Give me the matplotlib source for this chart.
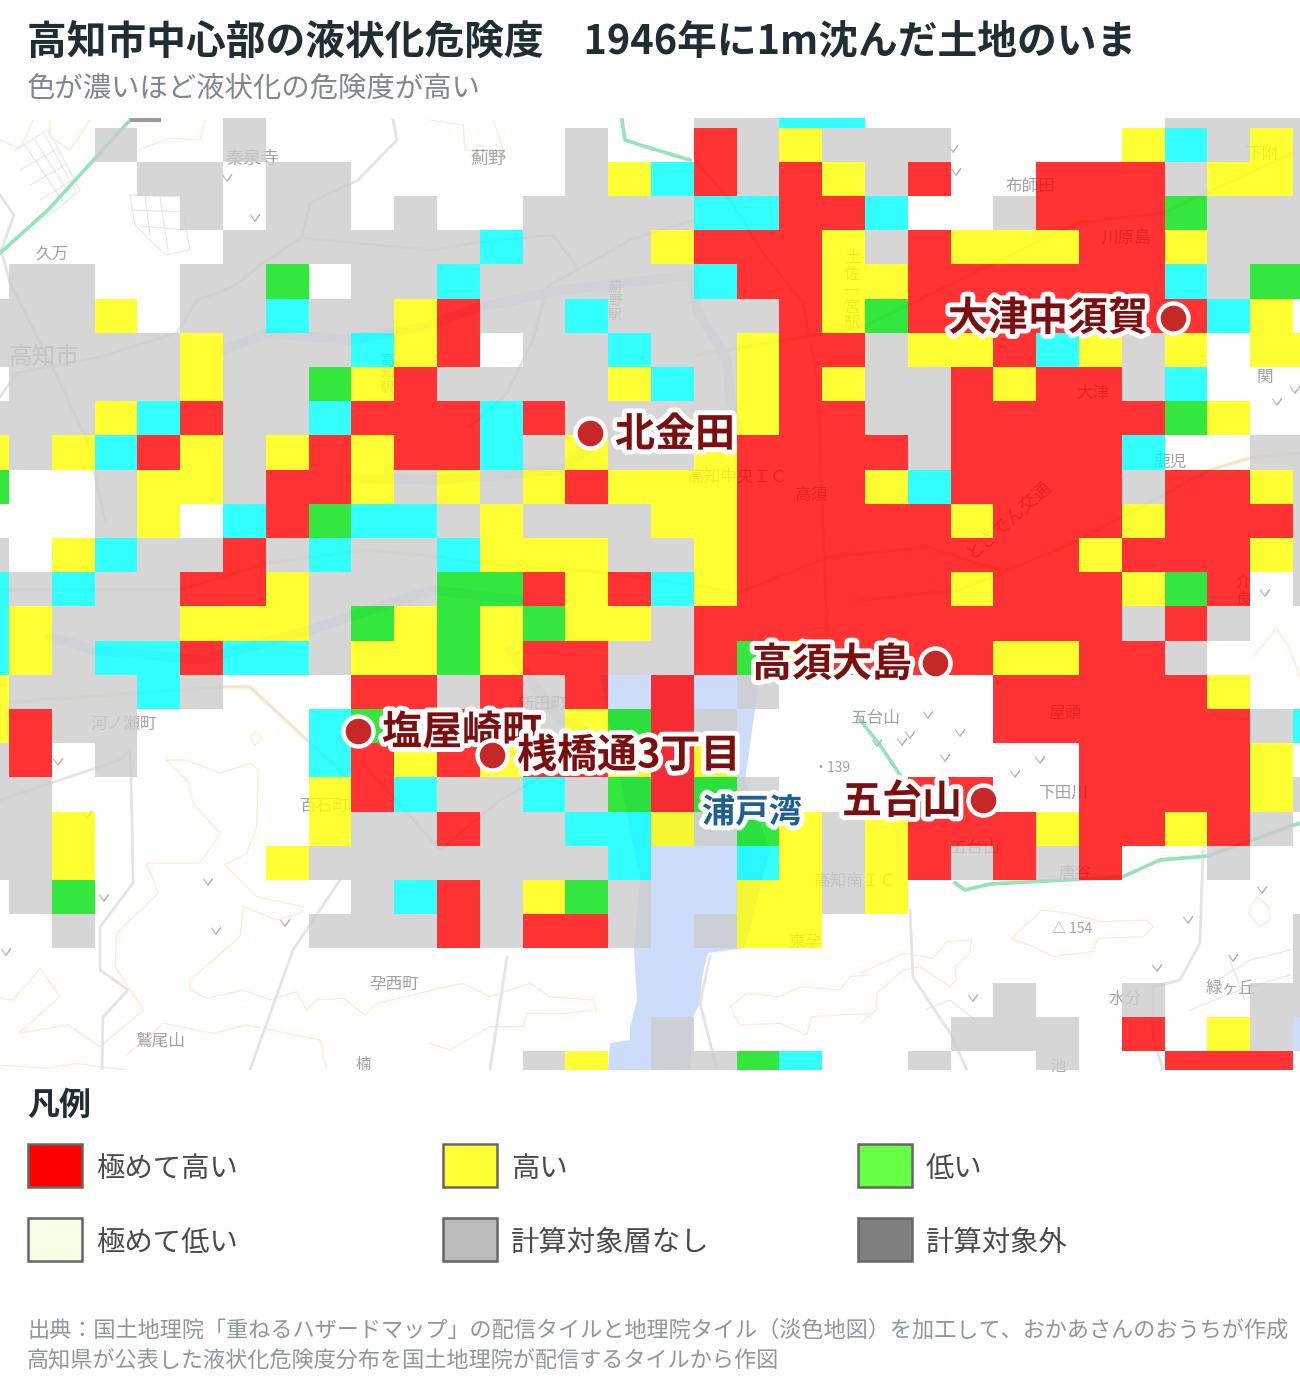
import numpy as np
import matplotlib
matplotlib.use("Agg")
import matplotlib.pyplot as plt
from matplotlib.colors import ListedColormap
from matplotlib.patches import Rectangle, Polygon
import matplotlib.patheffects as pe

plt.rcParams['font.family'] = ['Noto Sans CJK JP', 'DejaVu Sans']

# ---------- data ----------
TITLE = "高知市中心部の液状化危険度　1946年に1m沈んだ土地のいま"
SUBTITLE = "色が濃いほど液状化の危険度が高い"
SOURCE = ["出典：国土地理院「重ねるハザードマップ」の配信タイルと地理院タイル（淡色地図）を加工して、おかあさんのおうちが作成",
          "高知県が公表した液状化危険度分布を国土地理院が配信するタイルから作図"]

# R very high, Y high, G low, C very low, A no layer, . no data
grid_rows = [
    "......A..........AACC.......AAAA",
    "...A..A.......A..RAYAAA....YCAYA",
    "....AA.AA.....AYCRARYAR..RRRAYYA",
    ".....A.AA.A..AAAACCRRC..ARRRGAAA",
    "......AAAAAACAAAYRRRYARYYYRRYAAA",
    ".AA..AAG.AACAAAAACRRYYRRRRRRCAGG",
    "AAAY.AACAAYRAACAAAARYGRRRRRRRCY.",
    "AAAAAYAAACYR.AACAAYRRAYYRCYAY.YY",
    ".AAAAYAAGYRAAAAYCAYRYAARYRRAC...",
    "AAAYCRAACRRRCRAAAAYRRAARRRRRGY..",
    "YAYCRYAYRYRRCAYAAYRRRRARRRRC..AA",
    "G..AYYARRYAYAYRYYYRRRYCRRRRARRYA",
    "...AY.CRGCCAYAAAYYRRRRRYRRRYRRRA",
    "A.YCAARACAACYYYAAYRRRRRRRRYRRRYA",
    "CACAARRYAAAGGRYRCYRRRRRYRRRYGR.A",
    "CYAAAYYYAGYGYGYYARRRRRRRRRRARA..",
    "CYACCRCCAYYGYRRAARGYRRRRYYRRA...",
    "YAAACA...RRARAR.R.A.....RRRRRY..",
    "YRAA....CGARAAYGRA......RRRRRRAC",
    "AR.A....CRYRYRRYRY........RRRRY.",
    "AA......YRCAACAGRGA...RR..RRRRYA",
    "AAY.....YAARAACCYAGYAYRRRYRRYRA.",
    "AAY....YAAAAAAAC..CYAYRARAR..A..",
    ".AG......ACRAYGA..YYAY..........",
    "..A.....AAARARRA.AYY...........A",
    "...............................A",
    "........................A..A..AA",
    "................A......AAA.R.YA.",
    ".............AY.AAGC..A..A..RRR.",
]
grid_codes = "RYGCA"
grid_colors = ["#FF0000", "#FFFF00", "#00E20F", "#00FFFF", "#CCCCCC"]

legend_labels = ["極めて高い", "高い", "低い", "極めて低い", "計算対象層なし", "計算対象外"]
legend_colors = ["#FF0000", "#FFFF33", "#66FF44", "#F4FFE6", "#BBBBBB", "#7F7F7F"]

place_labels = [
    ("大津中須賀", 948, 319, 1173, 318),
    ("北金田", 615, 435, 590, 433),
    ("高須大島", 752, 665, 935, 663),
    ("塩屋崎町", 382, 733, 358, 731),
    ("桟橋通3丁目", 517, 756, 492, 755),
    ("五台山", 842, 802, 983, 800),
]

map_names = [
    ("秦泉寺", 253, 159, 13, 0), ("薊野", 489, 159, 13, 0), ("久万", 52, 255, 12, 0),
    ("高知市", 44, 357, 17, 0), ("布師田", 1030, 186, 12, 0), ("川原島", 1127, 238, 12, 0),
    ("下附", 1262, 154, 12, 0), ("大津", 1093, 393, 12, 0), ("鹿児", 1170, 462, 12, 0),
    ("高須", 812, 495, 12, 0), ("高知中央ＩＣ", 738, 477, 12, 0), ("とさでん交通", 1008, 519, 13, 42),
    ("屋頭", 1065, 713, 12, 0), ("五台山", 875, 718, 12, 0), ("下田川", 1063, 793, 12, 0),
    ("百石町", 325, 806, 12, 0), ("河ノ瀬町", 124, 725, 12, 0), ("新田町", 543, 704, 12, 0),
    ("孕西町", 394, 985, 12, 0), ("鷲尾山", 160, 1041, 12, 0), ("水分", 1125, 999, 12, 0),
    ("緑ヶ丘", 1230, 989, 12, 0), ("唐谷", 1075, 873, 12, 0), ("東孕", 805, 943, 12, 0),
    ("高知南ＩＣ", 855, 881, 12, 0), ("△ 154", 1072, 929, 10, 0), ("・139", 832, 768, 10, 0),
    ("関", 1265, 377, 12, 0), ("五台山", 975, 849, 12, 0), ("楠", 363, 1065, 11, 0),
    ("池", 1058, 1066, 11, 0), ("土\n佐\n一\n宮\n駅", 852, 291, 12, 0), ("薊\n野\n駅", 615, 301, 10, 0),
    ("高\n知\n駅", 387, 374, 10, 0), ("介\n良", 1243, 591, 11, 0),
]

forest_marks_x = [227, 255, 58, 87, 104, 208, 216, 285, 6, 945, 1040, 1015, 1188, 1157, 1233, 1262, 973,
                  953, 956, 1277, 1295, 928, 960, 902, 877, 910, 1265]
forest_marks_y = [178, 218, 762, 815, 898, 882, 931, 923, 952, 758, 760, 774, 920, 968, 958, 890, 998,
                  149, 172, 402, 390, 715, 733, 742, 743, 735, 593]

water_areas = [
    [(600, 675), (760, 675), (745, 780), (770, 850), (745, 948), (708, 953), (702, 977), (700, 1003),
     (693, 1017), (690, 1070), (608, 1070), (610, 1043), (630, 1040), (630, 1027), (637, 1000), (634, 950),
     (640, 880)],
    [(1293, 1017), (1300, 1017), (1300, 1051), (1293, 1051)],
]
river_paths = [
    [(480, 307), (563, 290), (693, 275), (697, 310), (727, 360), (730, 397), (740, 440)],
    [(223, 350), (267, 333), (350, 340), (430, 325), (480, 307)],
    [(50, 637), (93, 650), (200, 660), (310, 630), (433, 590), (520, 600)],
    [(350, 478), (440, 480), (560, 470), (600, 440)],
    [(605, 740), (560, 720), (530, 680), (510, 650)],
]
road_paths = [
    [(393, 120), (397, 140), (358, 180), (310, 203), (302, 237), (263, 263), (233, 287), (197, 300), (177, 333), (100, 357), (17, 373), (0, 397)],
    [(302, 238), (433, 250), (480, 242), (553, 235), (577, 267)],
    [(2, 253), (10, 283), (57, 377), (87, 440), (105, 520)],
    [(693, 220), (630, 240), (547, 287), (533, 340), (507, 393), (470, 427)],
    [(697, 163), (730, 200), (763, 253), (803, 303), (817, 377), (820, 440), (823, 530), (827, 630)],
    [(340, 880), (293, 950), (250, 1070)],
    [(130, 750), (132, 817), (133, 883), (100, 927), (100, 970), (128, 990), (103, 1017), (102, 1070)],
    [(507, 957), (490, 1070)],
    [(710, 957), (700, 1003), (717, 1070)],
    [(910, 910), (913, 977), (950, 1033), (967, 1070)],
    [(1203, 850), (1200, 943), (1180, 980), (1153, 987), (1153, 1037), (1163, 1070)],
    [(0, 800), (120, 760), (130, 750)],
    [(0, 253), (14, 215), (0, 195)],
    [(360, 760), (440, 850), (500, 800), (605, 740)],
]
# thin street traces in the residential blocks north-west of the centre
street_paths = [
    [(15, 150), (48, 130), (80, 190), (50, 215)],
    [(25, 145), (62, 200)], [(35, 140), (70, 195)], [(45, 135), (75, 190)],
    [(20, 170), (55, 150)], [(30, 185), (65, 165)], [(40, 200), (72, 180)],
    [(130, 195), (180, 197), (190, 250), (165, 255), (135, 225), (130, 195)],
    [(145, 195), (150, 235)], [(160, 197), (168, 250)], [(132, 210), (183, 212)], [(140, 226), (186, 230)],
    [(1210, 985), (1250, 960), (1290, 950)], [(1190, 1010), (1240, 990), (1290, 975)],
    [(1230, 960), (1245, 1000)], [(925, 1010), (950, 1000), (975, 1020)],
]
tan_roads = [
    [(10, 702), (223, 687), (250, 687), (307, 740), (350, 780)],
    [(0, 590), (180, 590), (267, 563), (367, 550), (440, 557), (480, 563), (607, 573), (707, 587), (737, 593)],
    [(697, 355), (863, 327), (1077, 223), (1163, 213), (1293, 153)],
    [(860, 600), (960, 590), (1073, 543), (1210, 470), (1250, 458), (1300, 453)],
    [(737, 593), (830, 557), (927, 547), (1000, 570)],
]
green_paths = [
    [(955, 883), (965, 890), (990, 884), (1122, 877), (1160, 860), (1207, 856), (1300, 823)],
    [(0, 253), (48, 210), (130, 120)],
    [(622, 120), (625, 140), (650, 148), (690, 160)],
    [(860, 720), (880, 745), (900, 775)],
]
# contour traces as (origin, points at 3x crop scale)
contours = [
    ((0, 750), [(675, 345), (740, 310), (770, 230), (775, 60), (750, 40), (660, 70), (560, 30), (500, 30), (560, 90), (580, 160), (660, 250), (600, 340), (440, 340), (475, 430), (350, 550), (345, 650), (430, 780), (300, 890), (205, 825), (55, 850), (180, 740), (120, 655), (40, 750), (0, 745)]),
    ((0, 750), [(675, 345), (770, 440), (910, 470), (900, 490), (830, 510), (730, 470), (720, 560), (570, 690), (570, 720), (620, 745), (730, 720), (810, 750), (890, 725), (920, 780), (950, 750), (1030, 745), (1095, 795), (1130, 760), (1320, 715)]),
    ((0, 750), [(0, 945), (140, 955), (230, 940), (300, 950), (380, 960)]),
    ((0, 750), [(380, 915), (490, 820), (640, 850), (740, 825), (960, 870), (980, 960)]),
    ((430, 750), [(0, 720), (100, 700), (180, 740), (300, 700), (360, 740), (490, 750), (500, 780), (400, 790), (290, 790), (280, 830), (180, 830), (60, 900), (0, 880)]),
    ((430, 750), [(900, 770), (950, 730), (1050, 740), (1110, 710), (1230, 720), (1260, 680), (1320, 675)]),
    ((430, 750), [(900, 770), (930, 825), (1050, 820), (1130, 855), (1145, 800), (1320, 790)]),
    ((860, 750), [(455, 565), (545, 480), (630, 490), (720, 515), (860, 510), (880, 530), (850, 560), (715, 565), (695, 605), (580, 620), (520, 590), (455, 565)]),
    ((860, 750), [(0, 670), (130, 610), (220, 625), (260, 575), (335, 570), (330, 610), (285, 650), (290, 690), (270, 710), (180, 650), (130, 660), (50, 730), (50, 780), (0, 820)]),
    ((0, 110), [(0, 90), (60, 115), (100, 30)]),
    ((0, 110), [(150, 30), (150, 80), (210, 120), (270, 30)]),
    ((0, 110), [(415, 120), (510, 85), (600, 90), (615, 30)]),
    ((430, 110), [(0, 30), (100, 45), (105, 120), (220, 120), (190, 30)]),
    ((860, 430), [(1180, 680), (1250, 595), (1290, 660), (1320, 740)]),
    ((860, 750), [(1190, 440), (1165, 490), (1200, 530), (1230, 510), (1225, 470), (1190, 440)]),
    ((0, 430), [(750, 920), (770, 905), (785, 930), (765, 945), (750, 920)]),
]

# ---------- figure ----------
fig = plt.figure(figsize=(13, 13.86), dpi=100)
page = fig.add_axes([0, 0, 1, 1])
page.set_xlim(0, 1300)
page.set_ylim(1386, 0)
page.axis("off")
ax = fig.add_axes([0, (1386 - 1070) / 1386, 1, (1070 - 118) / 1386], zorder=2)
ax.set_xlim(0, 1300)
ax.set_ylim(1070, 118)
ax.axis("off")

# base map
for area in water_areas:
    ax.add_patch(Polygon(area, closed=True, fc="#CEDCFC", ec="none", zorder=1))
for p in river_paths:
    ax.plot(*zip(*p), color="#DDE5FB", lw=7, zorder=1, solid_capstyle="round")
for origin, pts in contours:
    ax.plot([origin[0] + x / 3 for x, y in pts], [origin[1] + y / 3 for x, y in pts],
            color="#FFEACD", lw=0.9, zorder=1.1, solid_joinstyle="round")
for p in street_paths:
    ax.plot(*zip(*p), color="#E6E6E6", lw=0.8, zorder=1.15)
for p in road_paths:
    ax.plot(*zip(*p), color="#E4E4E4", lw=2.0, zorder=1.2, solid_joinstyle="round")
for p in tan_roads:
    ax.plot(*zip(*p), color="#F6E5CA", lw=2.4, zorder=1.2, solid_joinstyle="round")
for p in green_paths:
    ax.plot(*zip(*p), color="#93E4B8", lw=2.6, zorder=1.3, solid_joinstyle="round")
ax.plot([132, 159], [120, 120], color="#9A9A9A", lw=3, zorder=1.3)
ax.scatter(forest_marks_x, forest_marks_y, marker=[(-1, 0.7), (0, -0.7), (1, 0.7), (0, -0.7)], s=45,
           facecolors="none", edgecolors="#B4B4B4", linewidths=0.8, zorder=1.35)
for name, x, y, size, rot in map_names:
    ax.text(x, y, name, fontsize=size, color="#A2A2A2", ha="center", va="center",
            rotation=rot, linespacing=0.95, zorder=1.4)

# hazard cells
cell_w, cell_h = 42.8, 34.2
x_edges = -33.8 + cell_w * np.arange(len(grid_rows[0]) + 1)
y_edges = 93.3 + cell_h * np.arange(len(grid_rows) + 1)
values = np.array([[grid_codes.find(ch) for ch in row] for row in grid_rows], dtype=float)
values = np.ma.masked_less(values, 0)
ax.pcolormesh(x_edges, y_edges, values, cmap=ListedColormap(grid_colors), vmin=-0.5, vmax=4.5,
              alpha=0.8, antialiased=False, linewidth=0, edgecolors="none", zorder=2)

# annotations on the map
halo = [pe.withStroke(linewidth=7, foreground="white")]
for name, tx, ty, dx, dy in place_labels:
    ax.scatter([dx], [dy], s=467, color="#C62828", edgecolor="white", linewidth=3.2, zorder=5, clip_on=False)
    ax.text(tx, ty, name, fontsize=28.8, fontweight="bold", color="#7B0F0F", ha="left", va="center",
            path_effects=halo, zorder=5)
ax.text(752, 813, "浦戸湾", fontsize=24, fontweight="bold", color="#1F5F94", ha="center", va="center",
        path_effects=halo, zorder=5)

# heading
page.text(27, 42, TITLE, fontsize=28.6, fontweight="bold", color="#1F2D35", ha="left", va="center")
page.text(27, 89, SUBTITLE, fontsize=20.4, color="#7C878E", ha="left", va="center")

# legend
page.text(27, 1106, "凡例", fontsize=23, fontweight="bold", color="#1F2D35", ha="left", va="center")
legend_x = [28, 443, 858]
legend_y = [1144, 1218]
for i, (label, color) in enumerate(zip(legend_labels, legend_colors)):
    x, y = legend_x[i % 3], legend_y[i // 3]
    page.add_patch(Rectangle((x, y), 54, 43, fc=color, ec="#666666", lw=1.8))
    page.text(x + 68, y + 25, label, fontsize=20.4, color="#4A4A4A", ha="left", va="center")

# source
page.text(27, 1332, SOURCE[0], fontsize=15.95, color="#8C979E", ha="left", va="center")
page.text(27, 1361, SOURCE[1], fontsize=15.95, color="#8C979E", ha="left", va="center")

fig.savefig("out.png", dpi=100, facecolor="white")
